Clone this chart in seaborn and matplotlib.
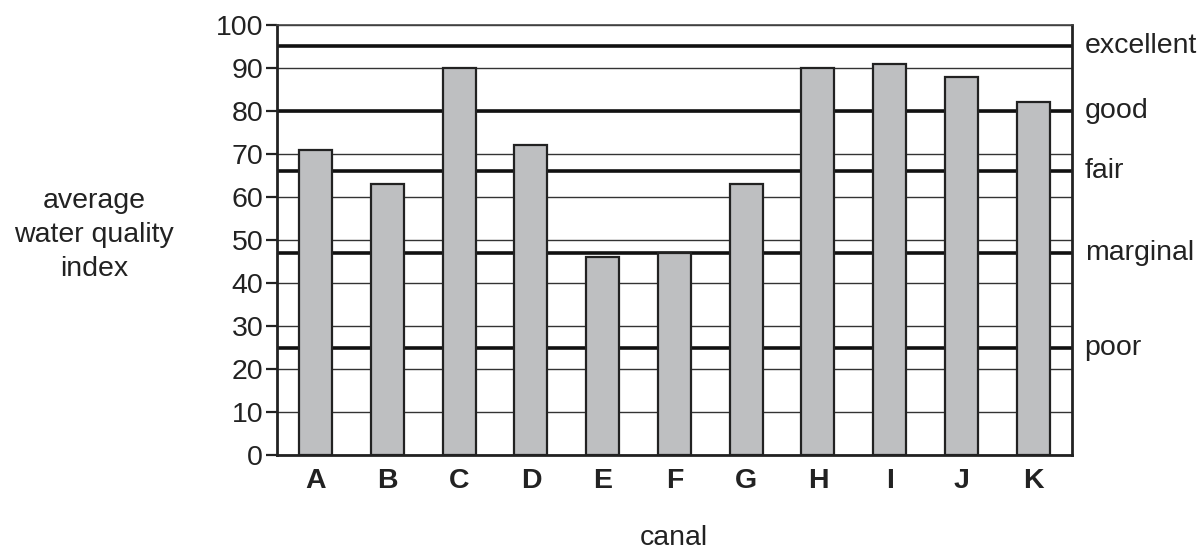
import pandas as pd
import matplotlib
matplotlib.use("Agg")
import matplotlib.pyplot as plt
import matplotlib.transforms as mtransforms
import seaborn as sns

# Data
canals = ["A", "B", "C", "D", "E", "F", "G", "H", "I", "J", "K"]
quality = [71, 63, 90, 72, 46, 47, 63, 90, 91, 88, 82]

rating_names = ["excellent", "good", "fair", "marginal", "poor"]
rating_levels = [95, 80, 66, 47, 25]

y_ticks = list(range(0, 101, 10))

df = pd.DataFrame({"canal": canals, "quality": quality})

sns.set_style("white")
plt.rcParams["font.family"] = ["Liberation Sans", "DejaVu Sans"]

FS = 20.5

fig = plt.figure(figsize=(12.03, 5.53), dpi=100)
ax = fig.add_axes([0.2303, 0.1772, 0.6607, 0.7776])

# grid lines and rating lines sit behind the bars
for y in y_ticks:
    ax.axhline(y, color="#333333", linewidth=1.0, zorder=0)
for y in rating_levels:
    ax.axhline(y, color="#111111", linewidth=2.6, zorder=0.5)

sns.barplot(data=df, x="canal", y="quality", color="#bebfc1",
            edgecolor="#222222", linewidth=1.6, width=0.46,
            saturation=1, ax=ax, zorder=2)

ax.set_xlim(-0.54, len(canals) - 0.46)
ax.set_ylim(0, 100)
ax.set_yticks(y_ticks)
ax.tick_params(axis="y", direction="out", length=8, width=1.6,
               color="#222222", labelsize=FS, pad=2, left=True,
               labelcolor="#222222")
ax.tick_params(axis="x", length=0, labelsize=FS, pad=9,
               labelcolor="#222222")
for lbl in ax.get_xticklabels():
    lbl.set_fontweight("bold")

for side in ["left", "bottom", "right"]:
    ax.spines[side].set_color("#222222")
    ax.spines[side].set_linewidth(2.0)
ax.spines["top"].set_color("#444444")
ax.spines["top"].set_linewidth(1.2)

# rating names on the right
trans = mtransforms.blended_transform_factory(ax.transAxes, ax.transData)
for name, y in zip(rating_names, rating_levels):
    ax.text(1.016, y, name, transform=trans, fontsize=FS,
            va="center", ha="left", color="#222222")

ax.set_xlabel("")
ax.set_ylabel("")
fig.text(0.560, 0.028, "canal", fontsize=FS, ha="center", va="center",
         color="#222222")
fig.text(0.078, 0.575, "average\nwater quality\nindex", fontsize=FS,
         ha="center", va="center", linespacing=1.4, color="#222222")

plt.savefig("out.png", dpi=100)
